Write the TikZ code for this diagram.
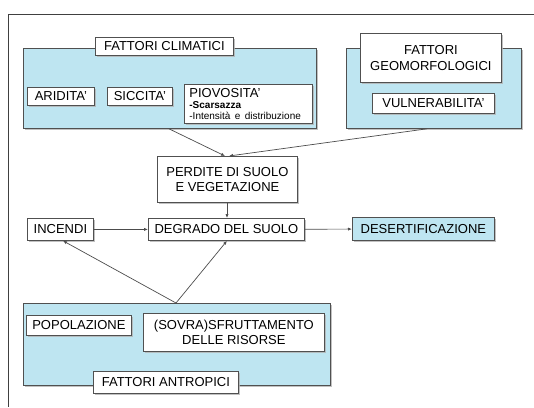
\documentclass[tikz,border=0pt]{standalone}
\usepackage{fontspec}
\setmainfont{Liberation Sans}
\usetikzlibrary{calc,arrows.meta,shadows}
\definecolor{lblue}{RGB}{190,229,241}
\definecolor{edge}{RGB}{80,80,80}
\begin{document}
\begin{tikzpicture}[x=1pt,y=-1pt,
  shad/.style={drop shadow={shadow xshift=1.2pt,shadow yshift=-1.2pt,fill=black!30,opacity=0.8}},
  box/.style={draw=edge, line width=0.8pt, fill=white, anchor=north west, inner sep=0pt,
              font=\fontsize{13}{15.5}\selectfont, align=center, shad},
  group/.style={draw=edge, line width=0.8pt, fill=lblue, anchor=north west, inner sep=0pt, shad},
  arr/.style={draw=black!70, line width=0.7pt, -{Latex[length=4pt,width=3.2pt]}},
]
\useasboundingbox (0,0) rectangle (534,407);
\draw[line width=1pt, color=black!75] (534,14) -- (8,14) -- (8,407);

% climatic factors
\node[group, minimum width=293pt, minimum height=80pt] (clim) at (23,48) {};
\node[box, minimum width=138pt, minimum height=18pt] (climlab) at (95,37) {FATTORI CLIMATICI};
\node[box, minimum width=67pt, minimum height=18pt] (arid) at (27,87) {ARIDITA'};
\node[box, minimum width=65pt, minimum height=18pt] (sicc) at (107,87) {SICCITA'};
\node[box, minimum height=39pt, inner xsep=5pt, text width=118pt, align=left] (piov) at (184,84)
  {PIOVOSITA'\\[-4pt]{\fontsize{10}{10}\selectfont\bfseries -Scarsazza}\\[-5pt]{\fontsize{10}{10}\selectfont -Intensità e distribuzione}};

% geomorphological factors
\node[group, minimum width=175pt, minimum height=80pt] (geo) at (346,48) {};
\node[box, minimum width=141pt, minimum height=49pt] (geolab) at (360,33) {FATTORI\\GEOMORFOLOGICI};
\node[box, minimum width=122pt, minimum height=20pt] (vuln) at (372,93) {VULNERABILITA'};

% middle chain
\node[box, minimum width=140pt, minimum height=46pt] (perd) at (157,156) {PERDITE DI SUOLO\\E VEGETAZIONE};
\node[box, minimum width=66pt, minimum height=22pt] (inc) at (27,218) {INCENDI};
\node[box, minimum width=156pt, minimum height=22pt] (degr) at (148,218) {DEGRADO DEL SUOLO};
\node[box, fill=lblue, minimum width=142pt, minimum height=23pt] (des) at (352,217) {DESERTIFICAZIONE};

% anthropic factors
\node[group, minimum width=307pt, minimum height=82pt] (ant) at (23,303) {};
\node[box, minimum width=105pt, minimum height=20pt] (pop) at (26,315) {POPOLAZIONE};
\node[box, minimum width=181pt, minimum height=38pt] (sovr) at (143,313) {(SOVRA)SFRUTTAMENTO\\DELLE RISORSE};
\node[box, minimum width=145pt, minimum height=22pt] (antlab) at (93,371) {FATTORI ANTROPICI};

% connectors
\coordinate (antTop) at ($(ant.north west)+(153,0)$);
\draw[arr] ($(clim.south west)+(146,0)$) -- ($(perd.north west)+(68,0)$);
\draw[arr] ($(geo.south west)+(81,0)$) -- ($(perd.north west)+(72,0)$);
\draw[arr] ($(perd.south west)+(70,0)$) -- ($(degr.north west)+(79,0)$);
\draw[arr] (inc) -- (degr);
\draw[arr] (degr) -- (des);
\draw[arr] (antTop) -- ($(inc.south west)+(36,0)$);
\draw[arr] (antTop) -- ($(degr.south west)+(79,0)$);
\end{tikzpicture}
\end{document}
